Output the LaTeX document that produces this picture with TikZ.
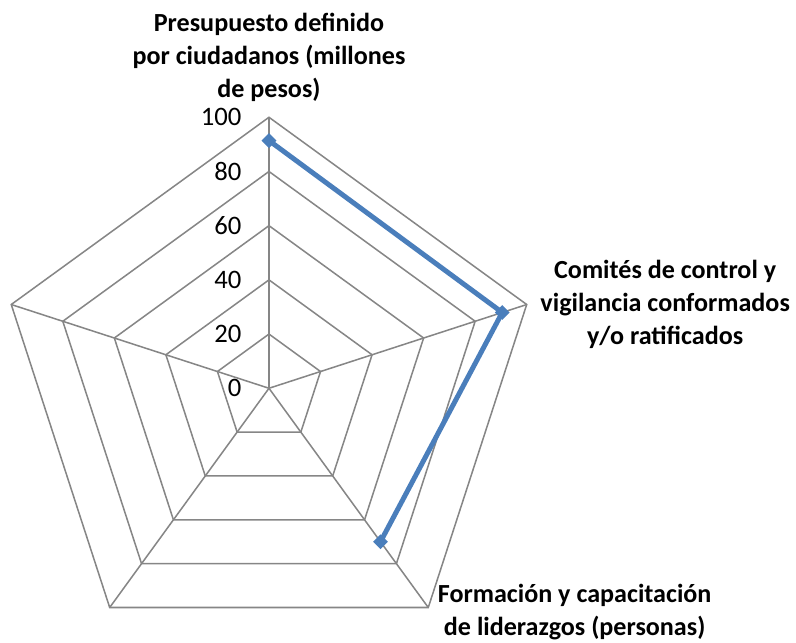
\documentclass[tikz,border=0pt]{standalone}
\usepackage{fontspec}
\setmainfont{Carlito}
\definecolor{gridgray}{RGB}{134, 134, 134}
\definecolor{seriesblue}{RGB}{74, 126, 187}
\usepackage{tikz}
\usetikzlibrary{shapes.geometric, positioning, calc}

\begin{document}
\begin{tikzpicture}
  \useasboundingbox (-4.963, -4.699) rectangle (9.724, 7.164);
  \tikzset{
    gridline/.style={draw=gridgray, line width=0.8pt},
    axislabel/.style={font=\fontsize{13.7}{17.3}\selectfont\bfseries, align=center},
    ticklabel/.style={font=\fontsize{14}{16}\selectfont, anchor=east, inner sep=0pt},
    datamark/.style={diamond, fill=seriesblue, inner sep=0pt, minimum size=8pt}
  }

  % Grid pentagons and spokes
  \foreach \r in {1, 2, 3, 4, 5}
    \draw[gridline, line join=miter] (90:\r) -- (18:\r) -- (-54:\r) -- (-126:\r) -- (162:\r) -- cycle;
  \foreach \a in {90, 18, -54, -126, 162}
    \draw[gridline] (0,0) -- (\a:5);

  % Tick labels
  \foreach \v in {0, 20, 40, 60, 80, 100}
    \node[ticklabel] (tick\v) at (-0.5, \v*0.05) {\v};

  % Axis labels
  \node[axislabel] (presupuesto) at (0, 6.10) {Presupuesto definido\\por ciudadanos (millones\\de pesos)};
  \node[axislabel] (comites) at (7.31, 1.54) {Comités de control y\\vigilancia conformados\\y/o ratificados};
  \node[axislabel] (formacion) at (5.64, -4.13) {Formación y capacitación\\de liderazgos (personas)};

  % Data series
  \coordinate (v1) at (90:91.4*0.05);
  \coordinate (v2) at (18:90.5*0.05);
  \coordinate (v3) at (-54:70*0.05);
  \draw[seriesblue, line width=2.6pt, line join=round] (v1) -- (v2) -- (v3);
  \node[datamark] (p1) at (v1) {};
  \node[datamark] (p2) at (v2) {};
  \node[datamark] (p3) at (v3) {};
\end{tikzpicture}
\end{document}
